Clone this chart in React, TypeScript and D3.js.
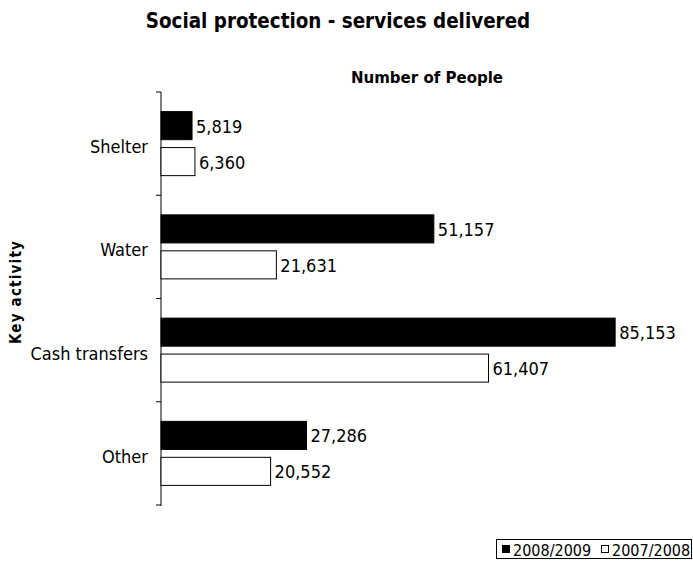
import React from "react";
import * as d3 from "d3";

const categories = ["Shelter", "Water", "Cash transfers", "Other"];
const series = ["2008/2009", "2007/2008"];
const values2008_2009 = [5819, 51157, 85153, 27286];
const values2007_2008 = [6360, 21631, 61407, 20552];

const W = 693;
const H = 568;
const FONT = "'DejaVu Sans Condensed', 'DejaVu Sans', Verdana, sans-serif";

export default function App() {
  const x = d3.scaleLinear().domain([0, 90000]).range([161, 641]);
  const y = d3.scaleBand<string>().domain(categories).range([92, 505]).paddingInner(0).paddingOuter(0);
  const bw = y.bandwidth();
  const inner = d3.scaleBand<string>().domain(series).range([bw * 0.19, bw * 0.81]).paddingInner(0.22);
  const fmt = d3.format(",");
  const seriesData = [values2008_2009, values2007_2008];
  const fills = ["#000000", "#ffffff"];

  return (
    <svg width={W} height={H} style={{ position: "absolute", left: 0, top: 0, background: "#fff" }} fontFamily={FONT}>
      <rect x={0} y={0} width={W} height={H} fill="#fff" />
      <text x={338} y={28} textAnchor="middle" fontSize={20.4} fontWeight="bold">
        Social protection - services delivered
      </text>
      <text x={427} y={83} textAnchor="middle" fontSize={16.7} fontWeight="bold">
        Number of People
      </text>
      <text
        transform={`translate(21,${292}) rotate(-90)`}
        textAnchor="middle"
        fontSize={15}
        fontWeight="bold"
        letterSpacing={1.2}
      >
        Key activity
      </text>
      {/* axis */}
      <line x1={161} x2={161} y1={92} y2={506} stroke="#000" strokeWidth={1} />
      {[...categories.map((c) => y(c)!), 505].map((t, i) => (
        <line key={i} x1={156} x2={161} y1={t} y2={t} stroke="#000" />
      ))}
      {categories.map((c) => (
        <text key={c} x={148} y={y(c)! + bw / 2 + 9.5} textAnchor="end" fontSize={18}>
          {c}
        </text>
      ))}
      {series.map((s, si) =>
        categories.map((c, ci) => {
          const v = seriesData[si][ci];
          const yy = y(c)! + inner(s)!;
          const h = inner.bandwidth();
          return (
            <g key={s + c}>
              <rect
                x={x(0)}
                y={yy}
                width={x(v) - x(0)}
                height={h}
                fill={fills[si]}
                stroke="#000"
                strokeWidth={1}
              />
              <text x={x(v) + 4} y={yy + h / 2 + 7} fontSize={18}>
                {fmt(v)}
              </text>
            </g>
          );
        })
      )}
      {/* legend */}
      <rect x={496.5} y={539.5} width={195} height={19} fill="#fff" stroke="#000" />
      <rect x={502.5} y={545.5} width={7} height={7} fill="#000" stroke="#000" />
      <text x={513} y={555.5} fontSize={16}>{series[0]}</text>
      <rect x={601.5} y={545.5} width={7} height={7} fill="#fff" stroke="#000" />
      <text x={612} y={555.5} fontSize={16}>{series[1]}</text>
    </svg>
  );
}
